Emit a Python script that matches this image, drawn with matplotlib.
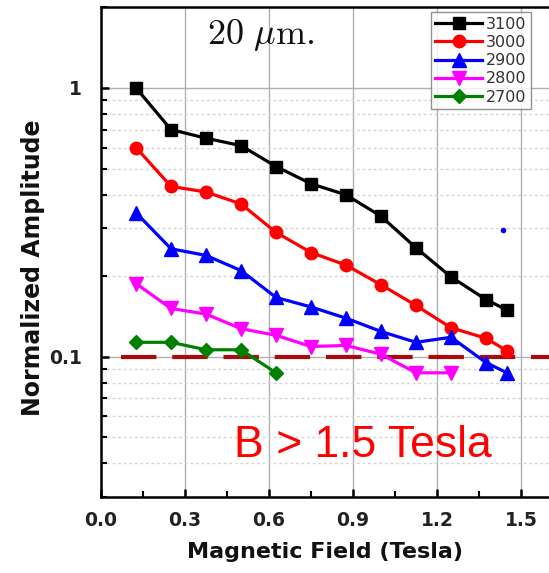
import matplotlib
matplotlib.use("Agg")
import matplotlib.pyplot as plt
from matplotlib.ticker import MultipleLocator, LogLocator, NullFormatter, FixedLocator, FixedFormatter

plt.rcParams['font.family'] = ['DejaVu Sans']
plt.rcParams['mathtext.fontset'] = 'cm'

# Data
x_full = [0.125, 0.25, 0.375, 0.5, 0.625, 0.75, 0.875, 1.0, 1.125, 1.25, 1.375, 1.45]
x_2800 = [0.125, 0.25, 0.375, 0.5, 0.625, 0.75, 0.875, 1.0, 1.125, 1.25]
x_2700 = [0.125, 0.25, 0.375, 0.5, 0.625]

y_3100 = [1.0, 0.70, 0.65, 0.61, 0.51, 0.44, 0.40, 0.333, 0.254, 0.198, 0.163, 0.149]
y_3000 = [0.60, 0.43, 0.41, 0.37, 0.29, 0.244, 0.219, 0.185, 0.155, 0.128, 0.117, 0.105]
y_2900 = [0.343, 0.252, 0.238, 0.209, 0.166, 0.153, 0.139, 0.124, 0.113, 0.118, 0.095, 0.087]
y_2800 = [0.187, 0.151, 0.144, 0.127, 0.120, 0.109, 0.110, 0.102, 0.087, 0.087]
y_2700 = [0.113, 0.113, 0.106, 0.106, 0.087]

labels = ["3100", "3000", "2900", "2800", "2700"]
threshold = 0.1
stray_x = [1.436]
stray_y = [0.295]

xticks = [0.0, 0.3, 0.6, 0.9, 1.2, 1.5]
xticklabels = ["0.0", "0.3", "0.6", "0.9", "1.2", "1.5"]

fig = plt.figure(figsize=(5.49, 5.73), dpi=100)
ax = fig.add_axes([0.184, 0.1326, 0.816, 0.855])

ax.set_yscale('log')
ax.set_xlim(0, 1.6)
ax.set_ylim(0.03, 2.0)

ax.xaxis.set_major_locator(FixedLocator(xticks))
ax.xaxis.set_major_formatter(FixedFormatter(xticklabels))
ax.xaxis.set_minor_locator(MultipleLocator(0.15))
ax.yaxis.set_minor_locator(LogLocator(base=10, subs=[2,3,4,5,6,7,8,9], numticks=10))
ax.yaxis.set_minor_formatter(NullFormatter())
ax.set_yticks([0.1, 1])
ax.set_yticklabels(["0.1", "1"])

ax.grid(True, which='major', axis='x', color='#b0b0b0', lw=1.0)
ax.grid(True, which='major', axis='y', color='#b0b0b0', lw=1.0)
ax.grid(True, which='minor', axis='y', color='#d4d4d4', lw=1.0, ls=(0, (2, 2)))

lw = 2.3
ax.plot(x_full, y_3100, color='black', marker='s', ms=8, lw=lw, label=labels[0], zorder=5)
ax.plot(x_full, y_3000, color='#ff0000', marker='o', ms=9, lw=lw, label=labels[1], zorder=5)
ax.plot(x_full, y_2900, color='#0000ff', marker='^', ms=10, lw=lw, label=labels[2], zorder=5)
ax.plot(x_2800, y_2800, color='#ff00ff', marker='v', ms=10, lw=lw, label=labels[3], zorder=5)
ax.plot(x_2700, y_2700, color='#008000', marker='D', ms=7.5, lw=lw, label=labels[4], zorder=5)

ax.plot([0.07, 1.6], [threshold, threshold], color='#a80c0c', lw=3, ls=(0, (8.5, 3.8)), zorder=4)
ax.plot(stray_x, stray_y, 'o', color='#0000ff', ms=3, zorder=5)

for s in ['left', 'bottom', 'top']:
    ax.spines[s].set_linewidth(1.8)
ax.spines['right'].set_visible(False)

ax.tick_params(axis='both', which='major', direction='in', length=6, width=1.8,
               labelsize=13.5)
ax.tick_params(axis='both', which='minor', direction='in', length=4, width=1.5)
ax.tick_params(axis='y', which='both', left=True, right=False)
ax.tick_params(axis='x', which='both', top=False)
ax.tick_params(axis='x', which='major', pad=10)
ax.tick_params(axis='y', which='major', pad=14)
for t in ax.get_xticklabels() + ax.get_yticklabels():
    t.set_fontweight('bold')
    t.set_color('#222222')

ax.set_xlabel('Magnetic Field (Tesla)', fontsize=16, fontweight='bold', color='#111111', labelpad=9)
ax.set_ylabel('Normalized Amplitude', fontsize=17, fontweight='bold', color='#111111')
ax.yaxis.set_label_coords(-0.125, 0.467)

leg = ax.legend(loc='upper right', bbox_to_anchor=(0.96, 0.99), fontsize=11.5,
                frameon=True, fancybox=False, edgecolor='#777777', handlelength=2.9,
                handletextpad=0.25, borderpad=0.3, labelspacing=0.2, borderaxespad=0)
leg.get_frame().set_linewidth(1.0)
for t in leg.get_texts():
    t.set_color('#333333')

ax.text(0.57, 1.58, r'$20\ \mu\mathrm{m.}$', fontsize=26, ha='center', va='center', color='#111111')
ax.text(0.935, 0.0465, 'B > 1.5 Tesla', fontsize=32, color='#ff0000', ha='center', va='center',
        family=['Liberation Sans', 'DejaVu Sans'])

fig.savefig('out.png', dpi=100)
